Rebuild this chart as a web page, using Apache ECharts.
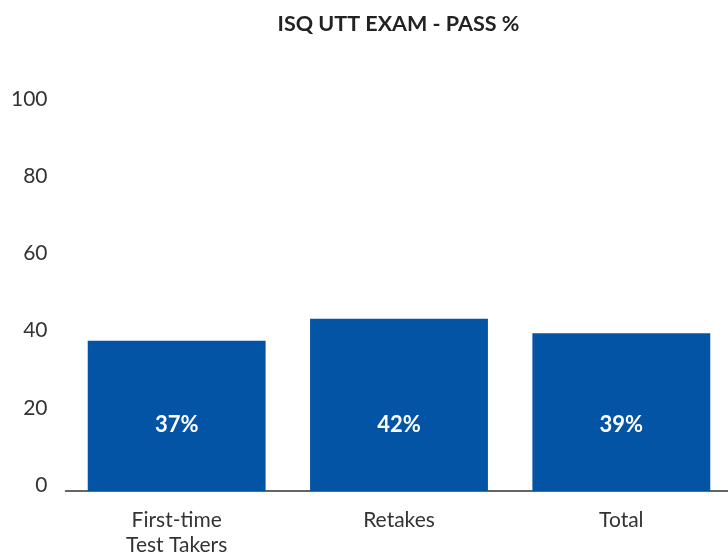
<!DOCTYPE html>
<html>
<head>
<meta charset="utf-8">
<script src="https://cdn.jsdelivr.net/npm/echarts@6/dist/echarts.min.js"></script>
<style>
  html, body { margin: 0; padding: 0; background: #fff; }
  #main { width: 728px; height: 554px; }
</style>
</head>
<body>
<div id="main"></div>
<script>
var categories = ['First-time\nTest Takers', 'Retakes', 'Total'];
var passValues = [38.9, 44.6, 40.9];
var passLabels = ['37%', '42%', '39%'];
var yTicks = [0, 20, 40, 60, 80, 100];

var chart = echarts.init(document.getElementById('main'));

var option = {
    backgroundColor: '#fff',
    animation: false,
    title: {
        text: 'ISQ UTT EXAM - PASS %',
        left: 393.5,
        top: 8,
        textAlign: 'center',
        textStyle: {
            fontFamily: 'Lato',
            fontWeight: 'bold',
            fontSize: 21.5,
            color: '#222'
        }
    },
    grid: {
        left: 65.5,
        width: 667,
        top: 105,
        height: 386,
        outerBoundsMode: 'none',
        containLabel: false
    },
    xAxis: {
        type: 'category',
        data: categories,
        axisLine: { lineStyle: { color: '#333', width: 1.5 } },
        axisTick: { show: false },
        axisLabel: {
            margin: 17,
            fontFamily: 'Lato',
            fontSize: 21,
            lineHeight: 25,
            color: '#333'
        }
    },
    yAxis: {
        type: 'value',
        min: yTicks[0],
        max: yTicks[yTicks.length - 1],
        interval: 20,
        axisLine: { show: false },
        axisTick: { show: false },
        splitLine: { show: false },
        axisLabel: {
            margin: 18,
            fontFamily: 'Lato',
            fontSize: 21,
            color: '#333',
            verticalAlign: 'bottom',
            lineHeight: 12
        }
    },
    series: [
        {
            type: 'bar',
            data: passValues,
            barWidth: '80%',
            itemStyle: { color: '#0354A5' },
            label: {
                show: true,
                position: 'insideBottom',
                distance: 55,
                fontFamily: 'Lato',
                fontWeight: 'bold',
                fontSize: 22,
                color: '#fff',
                formatter: function (p) { return passLabels[p.dataIndex]; }
            }
        }
    ]
};

chart.setOption(option);
</script>
</body>
</html>
